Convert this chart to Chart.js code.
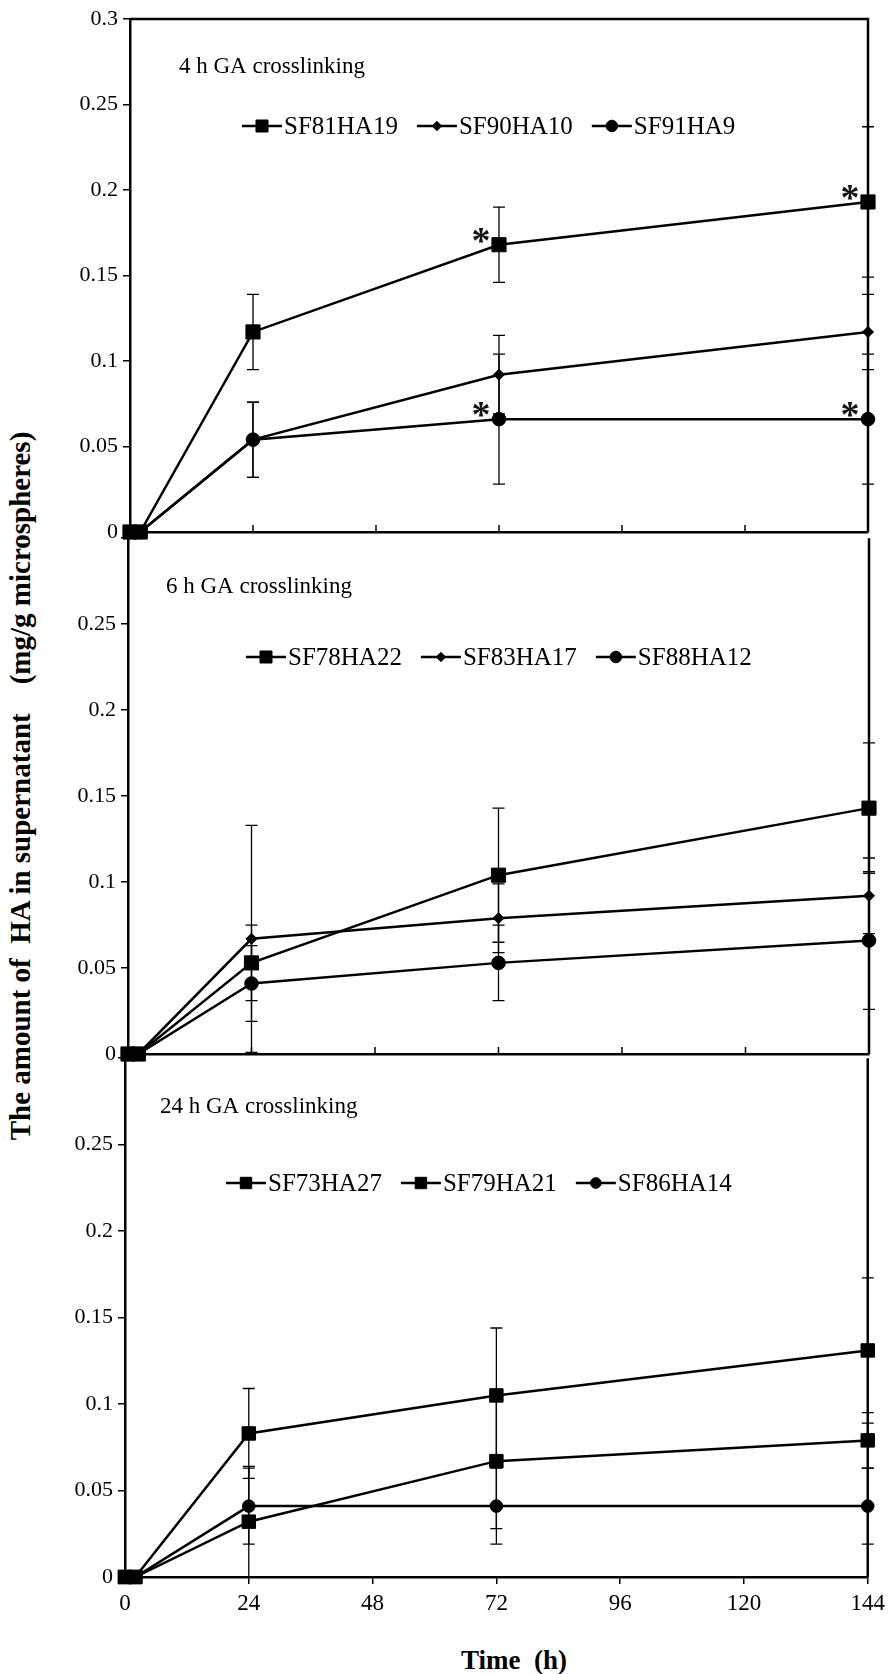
<!DOCTYPE html>
<html>
<head>
<meta charset="utf-8">
<script src="https://cdn.jsdelivr.net/npm/chart.js@4.4.1/dist/chart.umd.min.js"></script>
<style>
html,body{margin:0;padding:0;background:#fff;}
#wrap{position:relative;width:891px;height:1674px;overflow:hidden;background:#fff;}
#wrap canvas{position:absolute;left:0;}
.ytitle{position:absolute;left:20px;top:786px;font:bold 29px 'Liberation Serif',serif;white-space:pre;color:#000;transform:translate(-50%,-50%) rotate(-90deg);}
.xtitle{position:absolute;left:514px;top:1660px;font:bold 27px 'Liberation Serif',serif;white-space:pre;color:#000;transform:translate(-50%,-50%);}
</style>
</head>
<body>
<div id="wrap">
  <div class="ytitle">The amount of  HA in supernatant    (mg/g microspheres)</div>
  <div class="xtitle">Time  (h)</div>
</div>
<script>
// ---------------- DATA ----------------
const timeH = [0, 2, 24, 72, 144];
const xTickValues = [0, 24, 48, 72, 96, 120, 144];
const xTickLabels = ['0', '24', '48', '72', '96', '120', '144'];
const yTickValues = [0, 0.05, 0.1, 0.15, 0.2, 0.25, 0.3];
const yTickLabels = ['0', '0.05', '0.1', '0.15', '0.2', '0.25', '0.3'];

// Panel 1: 4 h GA crosslinking
const p1Title = '4 h GA crosslinking';
const p1Names = ['SF81HA19', 'SF90HA10', 'SF91HA9'];
const p1_SF81HA19 = [0, 0, 0.117, 0.168, 0.193];
const p1_SF90HA10 = [0, 0, 0.054, 0.092, 0.117];
const p1_SF91HA9  = [0, 0, 0.054, 0.066, 0.066];
const p1Err_SF81HA19 = [0, 0, 0.022, 0.022, 0.044];
const p1Err_SF90HA10 = [0, 0, 0.022, 0.023, 0.022];
const p1Err_SF91HA9  = [0, 0, 0.022, 0.038, 0.038];
// significance asterisks: [series index, point index]
const p1Asterisks = [[0, 3], [0, 4], [2, 3], [2, 4]];

// Panel 2: 6 h GA crosslinking
const p2Title = '6 h GA crosslinking';
const p2Names = ['SF78HA22', 'SF83HA17', 'SF88HA12'];
const p2_SF78HA22 = [0, 0, 0.053, 0.104, 0.143];
const p2_SF83HA17 = [0, 0, 0.067, 0.079, 0.092];
const p2_SF88HA12 = [0, 0, 0.041, 0.053, 0.066];
const p2Err_SF78HA22 = [0, 0, 0.022, 0.039, 0.038];
const p2Err_SF83HA17 = [0, 0, 0.066, 0.020, 0.022];
const p2Err_SF88HA12 = [0, 0, 0.022, 0.022, 0.040];

// Panel 3: 24 h GA crosslinking
const p3Title = '24 h GA crosslinking';
const p3Names = ['SF73HA27', 'SF79HA21', 'SF86HA14'];
const p3_SF73HA27 = [0, 0, 0.083, 0.105, 0.131];
const p3_SF79HA21 = [0, 0, 0.032, 0.067, 0.079];
const p3_SF86HA14 = [0, 0, 0.041, 0.041, 0.041];
const p3Err_SF73HA27 = [0, 0, 0.026, 0.039, 0.042];
const p3Err_SF79HA21 = [0, 0, 0.032, 0.039, 0.016];
const p3Err_SF86HA14 = [0, 0, 0.022, 0.022, 0.022];

// ---------------- LAYOUT / STYLE ----------------
const FONT = "'Liberation Serif', 'Times New Roman', serif";
const panels = [
  { title: p1Title, names: p1Names,
    values: [p1_SF81HA19, p1_SF90HA10, p1_SF91HA9],
    errors: [p1Err_SF81HA19, p1Err_SF90HA10, p1Err_SF91HA9],
    styles: ['rect', 'rectRot', 'circle'], radii: [10, 5.5, 6.8],
    asterisks: p1Asterisks,
    canvasTop: 0, canvasH: 560, plotTop: 19, plotBottom: 532, plotLeft: 130, plotRight: 868,
    showTopLabel: true, xLabels: false, topBorder: true,
    titlePos: [179, 67], legendPos: [242, 126] },
  { title: p2Title, names: p2Names,
    values: [p2_SF78HA22, p2_SF83HA17, p2_SF88HA12],
    errors: [p2Err_SF78HA22, p2Err_SF83HA17, p2Err_SF88HA12],
    styles: ['rect', 'rectRot', 'circle'], radii: [10, 5.5, 6.8],
    asterisks: [],
    canvasTop: 520, canvasH: 560, plotTop: 533, plotBottom: 1054, plotLeft: 128, plotRight: 869,
    showTopLabel: false, xLabels: false, topBorder: false,
    titlePos: [166, 587], legendPos: [246, 657] },
  { title: p3Title, names: p3Names,
    values: [p3_SF73HA27, p3_SF79HA21, p3_SF86HA14],
    errors: [p3Err_SF73HA27, p3Err_SF79HA21, p3Err_SF86HA14],
    styles: ['rect', 'rect', 'circle'], radii: [9.5, 9.5, 6.3],
    asterisks: [],
    canvasTop: 1040, canvasH: 634, plotTop: 1054, plotBottom: 1577, plotLeft: 125, plotRight: 870,
    showTopLabel: false, xLabels: true, topBorder: false,
    titlePos: [160, 1107], legendPos: [226, 1183] }
];

function drawMarker(ctx, style, radius, x, y) {
  ctx.save();
  ctx.fillStyle = '#000';
  ctx.strokeStyle = '#000';
  ctx.lineWidth = 1;
  ctx.beginPath();
  if (style === 'rect') {
    const s = Math.SQRT1_2 * radius;
    ctx.rect(x - s, y - s, 2 * s, 2 * s);
  } else if (style === 'rectRot') {
    ctx.moveTo(x - radius, y); ctx.lineTo(x, y - radius);
    ctx.lineTo(x + radius, y); ctx.lineTo(x, y + radius); ctx.closePath();
  } else {
    ctx.arc(x, y, radius, 0, Math.PI * 2);
  }
  ctx.fill();
  ctx.stroke();
  ctx.restore();
}

function panelPlugin(cfg) {
  return {
    id: 'panelDecor',
    beforeDatasetsDraw(chart) {
      const ctx = chart.ctx, ys = chart.scales.y;
      ctx.save();
      ctx.strokeStyle = '#000';
      ctx.lineWidth = 1.3;
      chart.data.datasets.forEach((ds, di) => {
        const meta = chart.getDatasetMeta(di);
        ds.errors.forEach((e, i) => {
          if (!e) return;
          const v = ds.data[i].y;
          const x = meta.data[i].x;
          const yt = ys.getPixelForValue(v + e);
          const yb = ys.getPixelForValue(Math.max(v - e, 0));
          ctx.beginPath();
          ctx.moveTo(x, yt); ctx.lineTo(x, yb);
          ctx.moveTo(x - 6, yt); ctx.lineTo(x + 6, yt);
          if (v - e > 0) { ctx.moveTo(x - 6, yb); ctx.lineTo(x + 6, yb); }
          ctx.stroke();
        });
      });
      ctx.restore();
    },
    afterDatasetsDraw(chart) {
      const ctx = chart.ctx, ca = chart.chartArea, xs = chart.scales.x;
      const off = cfg.canvasTop;
      ctx.save();
      // frame: right border and (panel 1) top border
      ctx.strokeStyle = '#000';
      ctx.lineWidth = 2.5;
      ctx.beginPath();
      ctx.moveTo(ca.right, ca.top - (cfg.topBorder ? 1.25 : 0));
      ctx.lineTo(ca.right, ca.bottom);
      if (cfg.topBorder) { ctx.moveTo(ca.left, ca.top); ctx.lineTo(ca.right + 1.25, ca.top); }
      ctx.stroke();
      // inward x ticks on upper panels
      if (!cfg.xLabels) {
        ctx.lineWidth = 1.5;
        ctx.beginPath();
        xTickValues.forEach(v => {
          if (v === 0 || v === 144) return;
          const x = xs.getPixelForValue(v);
          ctx.moveTo(x, ca.bottom); ctx.lineTo(x, ca.bottom - 7);
        });
        ctx.stroke();
      }
      // panel title
      ctx.fillStyle = '#000';
      ctx.font = '23px ' + FONT;
      ctx.textBaseline = 'middle';
      ctx.textAlign = 'left';
      ctx.fillText(cfg.title, cfg.titlePos[0], cfg.titlePos[1] - off);
      // legend
      ctx.font = '25px ' + FONT;
      let lx = cfg.legendPos[0];
      const ly = cfg.legendPos[1] - off;
      chart.data.datasets.forEach((ds, di) => {
        ctx.strokeStyle = '#000';
        ctx.lineWidth = 2.5;
        ctx.beginPath(); ctx.moveTo(lx, ly); ctx.lineTo(lx + 40, ly); ctx.stroke();
        drawMarker(ctx, cfg.styles[di], cfg.radii[di] * 0.85, lx + 20, ly);
        ctx.fillStyle = '#000';
        ctx.fillText(ds.label, lx + 42, ly + 1);
        lx += 42 + ctx.measureText(ds.label).width + 19;
      });
      // asterisks
      ctx.font = 'bold 38px ' + FONT;
      ctx.textAlign = 'center';
      ctx.textBaseline = 'alphabetic';
      ctx.fillStyle = '#141414';
      cfg.asterisks.forEach(([di, i]) => {
        const p = chart.getDatasetMeta(di).data[i];
        ctx.fillText('*', p.x - 18, p.y + 8);
      });
      ctx.restore();
    }
  };
}

const wrap = document.getElementById('wrap');
function nearestIndex(arr, v) {
  let best = 0;
  arr.forEach((a, i) => { if (Math.abs(a - v) < Math.abs(arr[best] - v)) best = i; });
  return best;
}

panels.forEach(cfg => {
  const canvas = document.createElement('canvas');
  canvas.width = 891; canvas.height = cfg.canvasH;
  canvas.style.top = cfg.canvasTop + 'px';
  canvas.style.width = '891px'; canvas.style.height = cfg.canvasH + 'px';
  wrap.appendChild(canvas);
  const datasets = cfg.names.map((n, i) => ({
    label: n,
    data: timeH.map((t, j) => ({ x: t, y: cfg.values[i][j] })),
    errors: cfg.errors[i],
    borderColor: '#000', backgroundColor: '#000', borderWidth: 2.5,
    pointStyle: cfg.styles[i], pointRadius: cfg.radii[i],
    pointBackgroundColor: '#000', pointBorderColor: '#000', pointBorderWidth: 1,
    tension: 0, clip: false
  }));
  new Chart(canvas, {
    type: 'line',
    data: { datasets },
    options: {
      responsive: false, animation: false, devicePixelRatio: 1,
      events: [],
      layout: { padding: { top: cfg.plotTop - cfg.canvasTop, right: 891 - cfg.plotRight, left: 0, bottom: 0 } },
      plugins: { legend: { display: false }, tooltip: { enabled: false }, title: { display: false } },
      scales: {
        x: {
          type: 'linear', min: 0, max: 144,
          afterBuildTicks: s => { s.ticks = xTickValues.map(v => ({ value: v })); },
          afterFit: s => { s.height = cfg.canvasTop + cfg.canvasH - cfg.plotBottom; },
          grid: { display: true, drawOnChartArea: false, drawTicks: cfg.xLabels, tickLength: 7, color: '#000', lineWidth: 1.5 },
          border: { display: true, color: '#000', width: 2.5 },
          ticks: {
            display: cfg.xLabels, autoSkip: false, maxRotation: 0, padding: 6, color: '#000',
            font: { family: FONT, size: 23 },
            callback: (v) => xTickLabels[nearestIndex(xTickValues, v)]
          }
        },
        y: {
          type: 'linear', min: 0, max: 0.3,
          afterBuildTicks: s => { s.ticks = yTickValues.map(v => ({ value: v })); },
          afterFit: s => { s.width = cfg.plotLeft; },
          grid: { display: true, drawOnChartArea: false, drawTicks: true, tickLength: 7, color: '#000', lineWidth: 1.5 },
          border: { display: true, color: '#000', width: 2.5 },
          ticks: {
            autoSkip: false, padding: 5, color: '#000',
            font: { family: FONT, size: 22 },
            callback: (v) => {
              const k = nearestIndex(yTickValues, v);
              if (!cfg.showTopLabel && k === yTickValues.length - 1) return '';
              return yTickLabels[k];
            }
          }
        }
      }
    },
    plugins: [panelPlugin(cfg)]
  });
});
</script>
</body>
</html>
